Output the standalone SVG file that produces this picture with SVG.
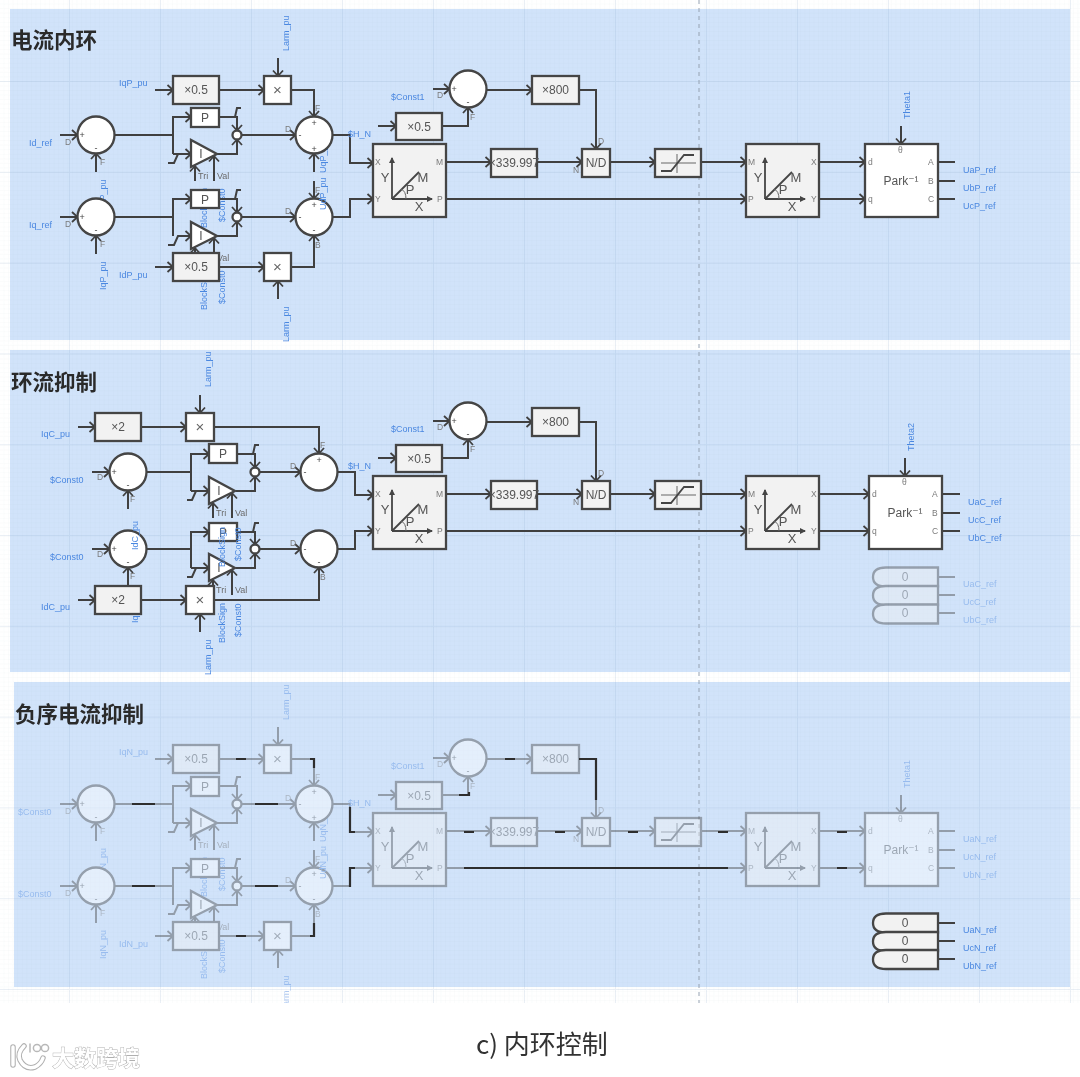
<svg xmlns="http://www.w3.org/2000/svg" width="1080" height="1077" viewBox="0 0 1080 1077">
<style>
text{font-family:"Liberation Sans","DejaVu Sans","Noto Sans CJK SC",sans-serif}
.title{font-family:"Noto Sans CJK SC","Noto Sans",sans-serif;font-weight:700;font-size:21.5px;fill:#2a2a2a}
.lb{font-size:9px;fill:#4a87e0}
.pt{font-size:8.5px;fill:#7a7a7a}
.tv{font-size:9px;fill:#6a6a6a}
.tx{font-size:12px;fill:#555;text-anchor:middle}
.gl{font-size:13px;fill:#555;text-anchor:middle}
.sg{font-size:9px;fill:#444;text-anchor:middle}
.b{fill:#f2f2f2;stroke:#444;stroke-width:2.3}
.w{fill:#fff;stroke:#444;stroke-width:2.3}
.c{fill:#fff;stroke:#444;stroke-width:2.3}
.ln{fill:none;stroke:#3f3f3f;stroke-width:2}
.ar{marker-end:url(#a)}
.dk{fill:none;stroke:#2f2f2f;stroke-width:2.2}
.thin{fill:none;stroke:#666;stroke-width:1}
.axis{fill:none;stroke:#444;stroke-width:1.8}
</style>
<defs>
<marker id="a" markerUnits="userSpaceOnUse" markerWidth="10" markerHeight="12" refX="8" refY="6" orient="auto"><path d="M2.5 1L8 6L2.5 11" fill="none" stroke="#3f3f3f" stroke-width="1.8"/></marker>
<marker id="t" markerUnits="userSpaceOnUse" markerWidth="8" markerHeight="8" refX="5" refY="4" orient="auto"><path d="M0 1L6 4L0 7Z" fill="#444"/></marker>
<pattern id="minor" width="4.55" height="4.55" patternUnits="userSpaceOnUse" x="0" y="0"><path d="M4.55 0V4.55H0" fill="none" stroke="#7f93ad" stroke-opacity=".08" stroke-width=".7"/></pattern>
<pattern id="major" width="91" height="90.8" patternUnits="userSpaceOnUse" x="69" y="81"><path d="M.5 0V90.8M0 .5H91" fill="none" stroke="#7f9dc4" stroke-opacity=".16" stroke-width="1"/></pattern>
<g id="axes"><path class="axis" d="M19 55V14" marker-end="url(#t)"/><path class="axis" d="M19 55H59" marker-end="url(#t)"/><path class="axis" d="M19 55L46 28"/><path class="thin" d="M33 55Q33 47 28 45"/></g>
<g id="limiter"><path class="thin" d="M6 14H41M22 5V24"/><path class="axis" d="M6 22H16L29 6H39"/></g>
<path id="zero" d="M0 0H-52Q-65 0-65 9.5Q-65 19-52 19H0Z"/>
<filter id="soft" x="0" y="0" width="100%" height="100%"><feGaussianBlur stdDeviation="0.5"/></filter>
</defs>
<rect width="1080" height="1077" fill="#fff"/>
<g filter="url(#soft)">
<g id="panels">
<rect x="10" y="9" width="1060" height="331" fill="#d1e3fa"/>
<rect x="10" y="350" width="1060" height="322" fill="#d1e3fa"/>
<rect x="14" y="682" width="1056" height="305" fill="#d1e3fa"/>
<rect width="1080" height="1003" fill="url(#minor)"/>
<rect width="1080" height="1003" fill="url(#major)"/>
<path d="M699 0V1003" fill="none" stroke="#95a2b2" stroke-width="1" stroke-dasharray="4 4"/>
</g>

<text class="title" x="11" y="48">电流内环</text>
<text class="title" x="11" y="390">环流抑制</text>
<text class="title" x="15" y="722">负序电流抑制</text>

<g id="section-1">
<g class="lb">
<text transform="translate(106,208) rotate(-90)">IdP_pu</text>
<text transform="translate(207,228) rotate(-90)">BlockSign</text>
<text transform="translate(225,222) rotate(-90)">$Const0</text>
<text transform="translate(207,310) rotate(-90)">BlockSign</text>
<text transform="translate(225,304) rotate(-90)">$Const0</text>
<text transform="translate(326,173) rotate(-90)">UqP_pu</text>
</g>
<text class="tv" x="217" y="261">Val</text>
<g id="connectors-1">
<path class="ln ar" d="M60 135H77.5"/><path class="ln ar" d="M96 172V153.5"/><path class="ln" d="M114 135H173"/>
<path class="ln ar" d="M173 154V117H191"/><path class="ln ar" d="M168 163H174L178 154H191"/><path class="ln" d="M173 154H178"/>
<path class="ln ar" d="M217 154H237V139.5"/><path class="ln ar" d="M219 117H237V130.5"/><path class="ln" d="M232 117H235L237 108H241"/><path class="ln ar" d="M241.5 135H295.5"/>
<path class="ln ar" d="M195 181V166"/><path class="ln ar" d="M214 181V156"/>
<path class="ln ar" d="M60 217H77.5"/><path class="ln ar" d="M96 254V235.5"/><path class="ln" d="M114 217H173"/>
<path class="ln ar" d="M173 236V199H191"/><path class="ln ar" d="M168 245H174L178 236H191"/>
<path class="ln ar" d="M217 236H237V221.5"/><path class="ln ar" d="M219 199H237V212.5"/><path class="ln" d="M232 199H235L237 190H241"/><path class="ln ar" d="M241.5 217H295.5"/>
<path class="ln ar" d="M195 258V248"/><path class="ln ar" d="M214 258V238"/>
<path class="ln ar" d="M155 90H173"/><path class="ln ar" d="M219 90H264"/><path class="ln ar" d="M278 58V76"/><path class="ln ar" d="M291 90H314V116.5"/>
<path class="ln ar" d="M314 172V153.5"/><path class="ln ar" d="M314 181V198.5"/>
<path class="ln ar" d="M155 267H173"/><path class="ln ar" d="M219 267H264"/><path class="ln ar" d="M278 299V281"/><path class="ln ar" d="M291 267H314V235.5"/>
<path class="ln ar" d="M332.5 135H350V163H373"/><path class="ln ar" d="M332.5 217H350V199H373"/>
<path class="ln ar" d="M378 126H396"/><path class="ln ar" d="M442 126H468V107.5"/><path class="ln ar" d="M433 89H449.5"/><path class="ln ar" d="M486.5 90H532"/>
<path class="ln ar" d="M579 90H596V149"/><path class="ln ar" d="M446 162H491"/><path class="ln ar" d="M537 162H582"/><path class="ln ar" d="M610 162H655"/><path class="ln ar" d="M701 162H746"/>
<path class="ln ar" d="M446 199H746"/><path class="ln ar" d="M819 162H865"/><path class="ln ar" d="M819 199H865"/><path class="ln ar" d="M901 126V144"/>
<path class="ln" d="M938 162H955M938 181H955M938 199H955"/>
</g>
<g id="s1-sum-d" transform="translate(96,135)"><circle class="c" r="18.5"/><text class="sg" x="-14" y="3">+</text><text class="sg" y="16">-</text><text class="pt" x="-31" y="10">D</text><text class="pt" x="4" y="30">F</text></g>
<g id="s1-sum-q" transform="translate(96,217)"><circle class="c" r="18.5"/><text class="sg" x="-14" y="3">+</text><text class="sg" y="16">-</text><text class="pt" x="-31" y="10">D</text><text class="pt" x="4" y="30">F</text></g>
<g id="s1-gain-q" transform="translate(173,76)"><rect class="b" width="46" height="28"/><text class="tx" x="23" y="18">×0.5</text></g>
<g id="s1-gain-d" transform="translate(173,253)"><rect class="b" width="46" height="28"/><text class="tx" x="23" y="18">×0.5</text></g>
<g id="s1-mul-q" transform="translate(264,76)"><rect class="w" width="27" height="28"/><text class="tx" x="13.5" y="19" style="font-size:15px;fill:#666">×</text></g>
<g id="s1-mul-d" transform="translate(264,253)"><rect class="w" width="27" height="28"/><text class="tx" x="13.5" y="19" style="font-size:15px;fill:#666">×</text></g>
<g id="s1-p1" transform="translate(191,108)"><rect class="w" width="28" height="19"/><text class="tx" x="14" y="14">P</text></g>
<g id="s1-p2" transform="translate(191,190)"><rect class="w" width="28" height="18"/><text class="tx" x="14" y="14">P</text></g>
<g id="s1-i1" transform="translate(191,140)"><path class="w" d="M0 0V27L26 14Z"/><text class="tx" x="10" y="18">I</text></g>
<g id="s1-i2" transform="translate(191,222)"><path class="w" d="M0 0V27L26 14Z"/><text class="tx" x="10" y="18">I</text></g>
<g id="s1-sw1"><circle class="c" cx="237" cy="135" r="4.5"/></g>
<g id="s1-sw2"><circle class="c" cx="237" cy="217" r="4.5"/></g>
<g id="s1-sum-a" transform="translate(314,135)"><circle class="c" r="18.5"/><text class="sg" y="-9">+</text><text class="sg" x="-14" y="3">-</text><text class="sg" y="17">+</text><text class="pt" x="-29" y="-3">D</text><text class="pt" x="1" y="-24">F</text></g>
<g id="s1-sum-b" transform="translate(314,217)"><circle class="c" r="18.5"/><text class="sg" y="-9">+</text><text class="sg" x="-14" y="3">-</text><text class="sg" y="16">-</text><text class="pt" x="-29" y="-3">D</text><text class="pt" x="1" y="-24">F</text><text class="pt" x="1" y="31">B</text></g>
<g id="s1-xy" transform="translate(373,144)"><rect class="b" width="73" height="73"/><use href="#axes"/><text class="pt" x="2" y="21">X</text><text class="pt" x="2" y="58">Y</text><text class="pt" x="63" y="21">M</text><text class="pt" x="64" y="58">P</text><text class="gl" x="12" y="38">Y</text><text class="gl" x="50" y="38">M</text><text class="gl" x="37" y="50">P</text><text class="gl" x="46" y="67">X</text></g>
<g id="s1-half" transform="translate(396,113)"><rect class="b" width="46" height="27"/><text class="tx" x="23" y="18">×0.5</text></g>
<g id="s1-sum-n" transform="translate(468,89)"><circle class="c" r="18.5"/><text class="sg" x="-14" y="3">+</text><text class="sg" y="16">-</text><text class="pt" x="-31" y="9">D</text><text class="pt" x="2" y="31">F</text></g>
<g id="s1-k800" transform="translate(532,76)"><rect class="b" width="47" height="28"/><text class="tx" x="23.5" y="18">×800</text></g>
<g id="s1-k339" transform="translate(491,149)"><rect class="b" width="46" height="28"/><text class="tx" x="23" y="18">×339.997</text></g>
<g id="s1-nd" transform="translate(582,149)"><rect class="b" width="28" height="28"/><text class="tx" x="14" y="18">N/D</text><text class="pt" x="-9" y="24">N</text><text class="pt" x="16" y="-5">D</text></g>
<g id="s1-lim" transform="translate(655,149)"><rect class="b" width="46" height="28"/><use href="#limiter"/></g>
<g id="s1-pol" transform="translate(746,144)"><rect class="b" width="73" height="73"/><use href="#axes"/><text class="pt" x="2" y="21">M</text><text class="pt" x="2" y="58">P</text><text class="pt" x="65" y="21">X</text><text class="pt" x="65" y="58">Y</text><text class="gl" x="12" y="38">Y</text><text class="gl" x="50" y="38">M</text><text class="gl" x="37" y="50">P</text><text class="gl" x="46" y="67">X</text></g>
<g id="s1-park" transform="translate(865,144)"><rect class="w" width="73" height="73"/><text class="tx" x="36" y="41">Park⁻¹</text><text class="pt" x="3" y="21">d</text><text class="pt" x="3" y="58">q</text><text class="pt" x="33" y="9">θ</text><text class="pt" x="63" y="21">A</text><text class="pt" x="63" y="40">B</text><text class="pt" x="63" y="58">C</text></g>
<g class="lb">
<text x="29" y="146">Id_ref</text><text x="29" y="228">Iq_ref</text>
<text x="119" y="86">IqP_pu</text><text x="119" y="278">IdP_pu</text>
<text x="348" y="137">$H_N</text><text x="391" y="100">$Const1</text>
<text transform="translate(106,290) rotate(-90)">IqP_pu</text>
<text transform="translate(289,51) rotate(-90)">Larm_pu</text>
<text transform="translate(289,342) rotate(-90)">Larm_pu</text>
<text transform="translate(326,210) rotate(-90)">UdP_pu</text>
<text transform="translate(910,119) rotate(-90)">Theta1</text>
<text x="963" y="173">UaP_ref</text><text x="963" y="191">UbP_ref</text><text x="963" y="209">UcP_ref</text>
</g>
<text class="tv" x="198" y="179">Tri</text><text class="tv" x="217" y="179">Val</text>
</g>

<g id="section-2">
<text class="lb" transform="translate(138,623) rotate(-90)">IqC_pu</text>
<g id="connectors-2">
<path class="ln ar" d="M78 427H95"/><path class="ln ar" d="M141 427H186"/><path class="ln ar" d="M200 395V413"/><path class="ln ar" d="M214 427H319V453.5"/>
<path class="ln ar" d="M92 472H109.5"/><path class="ln ar" d="M128 509V490.5"/><path class="ln" d="M146.5 472H191"/>
<path class="ln ar" d="M191 491V454H209"/><path class="ln ar" d="M187 500H192L196 491H209"/><path class="ln" d="M191 491H196"/>
<path class="ln ar" d="M236 491H255V476.5"/><path class="ln ar" d="M237 454H255V467.5"/><path class="ln" d="M250 454H253L255 445H259"/><path class="ln ar" d="M259.5 472H300.5"/>
<path class="ln ar" d="M213 518V503"/><path class="ln ar" d="M232 518V493"/>
<path class="ln ar" d="M92 549H109.5"/><path class="ln ar" d="M128 586V567.5"/><path class="ln" d="M146.5 549H191"/>
<path class="ln ar" d="M191 568V532H209"/><path class="ln ar" d="M187 577H192L196 568H209"/><path class="ln" d="M191 568H196"/>
<path class="ln ar" d="M236 568H255V553.5"/><path class="ln ar" d="M237 532H255V544.5"/><path class="ln" d="M250 532H253L255 523H259"/><path class="ln ar" d="M259.5 549H300.5"/>
<path class="ln ar" d="M213 595V580"/><path class="ln ar" d="M232 595V570"/>
<path class="ln ar" d="M78 600H95"/><path class="ln ar" d="M141 600H186"/><path class="ln ar" d="M200 632V614"/><path class="ln ar" d="M214 600H319V567.5"/>
<path class="ln ar" d="M337.5 472H355V495H373"/><path class="ln ar" d="M337.5 549H355V531H373"/>
<path class="ln ar" d="M378 458H396"/><path class="ln ar" d="M442 458H468V439.5"/><path class="ln ar" d="M433 421H449.5"/><path class="ln ar" d="M486.5 422H532"/>
<path class="ln ar" d="M579 422H596V481"/><path class="ln ar" d="M446 494H491"/><path class="ln ar" d="M537 494H582"/><path class="ln ar" d="M610 494H655"/><path class="ln ar" d="M701 494H746"/>
<path class="ln ar" d="M446 531H746"/><path class="ln ar" d="M819 494H869"/><path class="ln ar" d="M819 531H869"/><path class="ln ar" d="M905 458V476"/>
<path class="ln" d="M942 494H960M942 513H960M942 531H960"/>
</g>
<g id="s2-gain-q" transform="translate(95,413)"><rect class="b" width="46" height="28"/><text class="tx" x="23" y="18">×2</text></g>
<g id="s2-gain-d" transform="translate(95,586)"><rect class="b" width="46" height="28"/><text class="tx" x="23" y="18">×2</text></g>
<g id="s2-mul-q" transform="translate(186,413)"><rect class="w" width="28" height="28"/><text class="tx" x="14" y="19" style="font-size:15px;fill:#666">×</text></g>
<g id="s2-mul-d" transform="translate(186,586)"><rect class="w" width="28" height="28"/><text class="tx" x="14" y="19" style="font-size:15px;fill:#666">×</text></g>
<g id="s2-sum-d" transform="translate(128,472)"><circle class="c" r="18.5"/><text class="sg" x="-14" y="3">+</text><text class="sg" y="16">-</text><text class="pt" x="-31" y="8">D</text><text class="pt" x="2" y="30">F</text></g>
<g id="s2-sum-q" transform="translate(128,549)"><circle class="c" r="18.5"/><text class="sg" x="-14" y="3">+</text><text class="sg" y="16">-</text><text class="pt" x="-31" y="8">D</text><text class="pt" x="2" y="30">F</text></g>
<g id="s2-p1" transform="translate(209,444)"><rect class="w" width="28" height="19"/><text class="tx" x="14" y="14">P</text></g>
<g id="s2-p2" transform="translate(209,523)"><rect class="w" width="28" height="18"/><text class="tx" x="14" y="14">P</text></g>
<g id="s2-i1" transform="translate(209,477)"><path class="w" d="M0 0V27L26 14Z"/><text class="tx" x="10" y="18">I</text></g>
<g id="s2-i2" transform="translate(209,554)"><path class="w" d="M0 0V27L26 14Z"/><text class="tx" x="10" y="18">I</text></g>
<g id="s2-sw1"><circle class="c" cx="255" cy="472" r="4.5"/></g>
<g id="s2-sw2"><circle class="c" cx="255" cy="549" r="4.5"/></g>
<g id="s2-sum-a" transform="translate(319,472)"><circle class="c" r="18.5"/><text class="sg" y="-9">+</text><text class="sg" x="-14" y="3">-</text><text class="pt" x="-29" y="-3">D</text><text class="pt" x="1" y="-24">F</text></g>
<g id="s2-sum-b" transform="translate(319,549)"><circle class="c" r="18.5"/><text class="sg" x="-14" y="3">-</text><text class="sg" y="16">-</text><text class="pt" x="-29" y="-3">D</text><text class="pt" x="1" y="31">B</text></g>
<g id="s2-xy" transform="translate(373,476)"><rect class="b" width="73" height="73"/><use href="#axes"/><text class="pt" x="2" y="21">X</text><text class="pt" x="2" y="58">Y</text><text class="pt" x="63" y="21">M</text><text class="pt" x="64" y="58">P</text><text class="gl" x="12" y="38">Y</text><text class="gl" x="50" y="38">M</text><text class="gl" x="37" y="50">P</text><text class="gl" x="46" y="67">X</text></g>
<g id="s2-half" transform="translate(396,445)"><rect class="b" width="46" height="27"/><text class="tx" x="23" y="18">×0.5</text></g>
<g id="s2-sum-n" transform="translate(468,421)"><circle class="c" r="18.5"/><text class="sg" x="-14" y="3">+</text><text class="sg" y="16">-</text><text class="pt" x="-31" y="9">D</text><text class="pt" x="2" y="31">F</text></g>
<g id="s2-k800" transform="translate(532,408)"><rect class="b" width="47" height="28"/><text class="tx" x="23.5" y="18">×800</text></g>
<g id="s2-k339" transform="translate(491,481)"><rect class="b" width="46" height="28"/><text class="tx" x="23" y="18">×339.997</text></g>
<g id="s2-nd" transform="translate(582,481)"><rect class="b" width="28" height="28"/><text class="tx" x="14" y="18">N/D</text><text class="pt" x="-9" y="24">N</text><text class="pt" x="16" y="-5">D</text></g>
<g id="s2-lim" transform="translate(655,481)"><rect class="b" width="46" height="28"/><use href="#limiter"/></g>
<g id="s2-pol" transform="translate(746,476)"><rect class="b" width="73" height="73"/><use href="#axes"/><text class="pt" x="2" y="21">M</text><text class="pt" x="2" y="58">P</text><text class="pt" x="65" y="21">X</text><text class="pt" x="65" y="58">Y</text><text class="gl" x="12" y="38">Y</text><text class="gl" x="50" y="38">M</text><text class="gl" x="37" y="50">P</text><text class="gl" x="46" y="67">X</text></g>
<g id="s2-park" transform="translate(869,476)"><rect class="w" width="73" height="73"/><text class="tx" x="36" y="41">Park⁻¹</text><text class="pt" x="3" y="21">d</text><text class="pt" x="3" y="58">q</text><text class="pt" x="33" y="9">θ</text><text class="pt" x="63" y="21">A</text><text class="pt" x="63" y="40">B</text><text class="pt" x="63" y="58">C</text></g>
<g id="s2-zero" opacity=".42">
<path class="ln" d="M938 577H955M938 595H955M938 613H955"/>
<use href="#zero" class="b" x="938" y="567.5"/><use href="#zero" class="b" x="938" y="586"/><use href="#zero" class="b" x="938" y="604.5"/>
<text class="tx" x="905" y="581">0</text><text class="tx" x="905" y="599">0</text><text class="tx" x="905" y="617">0</text>
<g class="lb"><text x="963" y="587">UaC_ref</text><text x="963" y="605">UcC_ref</text><text x="963" y="623">UbC_ref</text></g>
</g>
<g class="lb">
<text x="41" y="437">IqC_pu</text><text x="41" y="610">IdC_pu</text>
<text x="50" y="483">$Const0</text><text x="50" y="560">$Const0</text>
<text x="348" y="469">$H_N</text><text x="391" y="432">$Const1</text>
<text transform="translate(138,550) rotate(-90)">IdC_pu</text>
<text transform="translate(211,387) rotate(-90)">Larm_pu</text>
<text transform="translate(211,675) rotate(-90)">Larm_pu</text>
<text transform="translate(225,567) rotate(-90)">BlockSign</text>
<text transform="translate(241,561) rotate(-90)">$Const0</text>
<text transform="translate(225,643) rotate(-90)">BlockSign</text>
<text transform="translate(241,637) rotate(-90)">$Const0</text>
<text transform="translate(914,451) rotate(-90)">Theta2</text>
<text x="968" y="505">UaC_ref</text><text x="968" y="523">UcC_ref</text><text x="968" y="541">UbC_ref</text>
</g>
<text class="tv" x="216" y="516">Tri</text><text class="tv" x="235" y="516">Val</text>
<text class="tv" x="216" y="593">Tri</text><text class="tv" x="235" y="593">Val</text>
</g>

<g id="section-3">
<g opacity=".42">
<g class="lb">
<text transform="translate(106,877) rotate(-90)">IdN_pu</text>
<text transform="translate(207,897) rotate(-90)">BlockSign</text>
<text transform="translate(225,891) rotate(-90)">$Const0</text>
<text transform="translate(207,979) rotate(-90)">BlockSign</text>
<text transform="translate(225,973) rotate(-90)">$Const0</text>
<text transform="translate(326,842) rotate(-90)">UqN_pu</text>
</g>
<text class="tv" x="217" y="930">Val</text>
<g id="connectors-3" transform="translate(0,669)">
<path class="ln ar" d="M60 135H77.5"/><path class="ln ar" d="M96 172V153.5"/><path class="ln" d="M114 135H173"/>
<path class="ln ar" d="M173 154V117H191"/><path class="ln ar" d="M168 163H174L178 154H191"/><path class="ln" d="M173 154H178"/>
<path class="ln ar" d="M217 154H237V139.5"/><path class="ln ar" d="M219 117H237V130.5"/><path class="ln" d="M232 117H235L237 108H241"/><path class="ln ar" d="M241.5 135H295.5"/>
<path class="ln ar" d="M195 181V166"/><path class="ln ar" d="M214 181V156"/>
<path class="ln ar" d="M60 217H77.5"/><path class="ln ar" d="M96 254V235.5"/><path class="ln" d="M114 217H173"/>
<path class="ln ar" d="M173 236V199H191"/><path class="ln ar" d="M168 245H174L178 236H191"/>
<path class="ln ar" d="M217 236H237V221.5"/><path class="ln ar" d="M219 199H237V212.5"/><path class="ln" d="M232 199H235L237 190H241"/><path class="ln ar" d="M241.5 217H295.5"/>
<path class="ln ar" d="M195 258V248"/><path class="ln ar" d="M214 258V238"/>
<path class="ln ar" d="M155 90H173"/><path class="ln ar" d="M219 90H264"/><path class="ln ar" d="M278 58V76"/><path class="ln ar" d="M291 90H314V116.5"/>
<path class="ln ar" d="M314 172V153.5"/><path class="ln ar" d="M314 181V198.5"/>
<path class="ln ar" d="M155 267H173"/><path class="ln ar" d="M219 267H264"/><path class="ln ar" d="M278 299V281"/><path class="ln ar" d="M291 267H314V235.5"/>
<path class="ln ar" d="M332.5 135H350V163H373"/><path class="ln ar" d="M332.5 217H350V199H373"/>
<path class="ln ar" d="M378 126H396"/><path class="ln ar" d="M442 126H468V107.5"/><path class="ln ar" d="M433 89H449.5"/><path class="ln ar" d="M486.5 90H532"/>
<path class="ln ar" d="M579 90H596V149"/><path class="ln ar" d="M446 162H491"/><path class="ln ar" d="M537 162H582"/><path class="ln ar" d="M610 162H655"/><path class="ln ar" d="M701 162H746"/>
<path class="ln ar" d="M446 199H746"/><path class="ln ar" d="M819 162H865"/><path class="ln ar" d="M819 199H865"/><path class="ln ar" d="M901 126V144"/>
<path class="ln" d="M938 162H955M938 181H955M938 199H955"/>
</g>
<g id="s3-sum-d" transform="translate(96,804)"><circle class="c" r="18.5"/><text class="sg" x="-14" y="3">+</text><text class="sg" y="16">-</text><text class="pt" x="-31" y="10">D</text><text class="pt" x="4" y="30">F</text></g>
<g id="s3-sum-q" transform="translate(96,886)"><circle class="c" r="18.5"/><text class="sg" x="-14" y="3">+</text><text class="sg" y="16">-</text><text class="pt" x="-31" y="10">D</text><text class="pt" x="4" y="30">F</text></g>
<g id="s3-gain-q" transform="translate(173,745)"><rect class="b" width="46" height="28"/><text class="tx" x="23" y="18">×0.5</text></g>
<g id="s3-gain-d" transform="translate(173,922)"><rect class="b" width="46" height="28"/><text class="tx" x="23" y="18">×0.5</text></g>
<g id="s3-mul-q" transform="translate(264,745)"><rect class="w" width="27" height="28"/><text class="tx" x="13.5" y="19" style="font-size:15px;fill:#666">×</text></g>
<g id="s3-mul-d" transform="translate(264,922)"><rect class="w" width="27" height="28"/><text class="tx" x="13.5" y="19" style="font-size:15px;fill:#666">×</text></g>
<g id="s3-p1" transform="translate(191,777)"><rect class="w" width="28" height="19"/><text class="tx" x="14" y="14">P</text></g>
<g id="s3-p2" transform="translate(191,859)"><rect class="w" width="28" height="18"/><text class="tx" x="14" y="14">P</text></g>
<g id="s3-i1" transform="translate(191,809)"><path class="w" d="M0 0V27L26 14Z"/><text class="tx" x="10" y="18">I</text></g>
<g id="s3-i2" transform="translate(191,891)"><path class="w" d="M0 0V27L26 14Z"/><text class="tx" x="10" y="18">I</text></g>
<g id="s3-sw1"><circle class="c" cx="237" cy="804" r="4.5"/></g>
<g id="s3-sw2"><circle class="c" cx="237" cy="886" r="4.5"/></g>
<g id="s3-sum-a" transform="translate(314,804)"><circle class="c" r="18.5"/><text class="sg" y="-9">+</text><text class="sg" x="-14" y="3">-</text><text class="sg" y="17">+</text><text class="pt" x="-29" y="-3">D</text><text class="pt" x="1" y="-24">F</text></g>
<g id="s3-sum-b" transform="translate(314,886)"><circle class="c" r="18.5"/><text class="sg" y="-9">+</text><text class="sg" x="-14" y="3">-</text><text class="sg" y="16">-</text><text class="pt" x="-29" y="-3">D</text><text class="pt" x="1" y="-24">F</text><text class="pt" x="1" y="31">B</text></g>
<g id="s3-xy" transform="translate(373,813)"><rect class="b" width="73" height="73"/><use href="#axes"/><text class="pt" x="2" y="21">X</text><text class="pt" x="2" y="58">Y</text><text class="pt" x="63" y="21">M</text><text class="pt" x="64" y="58">P</text><text class="gl" x="12" y="38">Y</text><text class="gl" x="50" y="38">M</text><text class="gl" x="37" y="50">P</text><text class="gl" x="46" y="67">X</text></g>
<g id="s3-half" transform="translate(396,782)"><rect class="b" width="46" height="27"/><text class="tx" x="23" y="18">×0.5</text></g>
<g id="s3-sum-n" transform="translate(468,758)"><circle class="c" r="18.5"/><text class="sg" x="-14" y="3">+</text><text class="sg" y="16">-</text><text class="pt" x="-31" y="9">D</text><text class="pt" x="2" y="31">F</text></g>
<g id="s3-k800" transform="translate(532,745)"><rect class="b" width="47" height="28"/><text class="tx" x="23.5" y="18">×800</text></g>
<g id="s3-k339" transform="translate(491,818)"><rect class="b" width="46" height="28"/><text class="tx" x="23" y="18">×339.997</text></g>
<g id="s3-nd" transform="translate(582,818)"><rect class="b" width="28" height="28"/><text class="tx" x="14" y="18">N/D</text><text class="pt" x="-9" y="24">N</text><text class="pt" x="16" y="-5">D</text></g>
<g id="s3-lim" transform="translate(655,818)"><rect class="b" width="46" height="28"/><use href="#limiter"/></g>
<g id="s3-pol" transform="translate(746,813)"><rect class="b" width="73" height="73"/><use href="#axes"/><text class="pt" x="2" y="21">M</text><text class="pt" x="2" y="58">P</text><text class="pt" x="65" y="21">X</text><text class="pt" x="65" y="58">Y</text><text class="gl" x="12" y="38">Y</text><text class="gl" x="50" y="38">M</text><text class="gl" x="37" y="50">P</text><text class="gl" x="46" y="67">X</text></g>
<g id="s3-park" transform="translate(865,813)"><rect class="w" width="73" height="73"/><text class="tx" x="36" y="41">Park⁻¹</text><text class="pt" x="3" y="21">d</text><text class="pt" x="3" y="58">q</text><text class="pt" x="33" y="9">θ</text><text class="pt" x="63" y="21">A</text><text class="pt" x="63" y="40">B</text><text class="pt" x="63" y="58">C</text></g>
<g class="lb">
<text x="18" y="815">$Const0</text><text x="18" y="897">$Const0</text>
<text x="119" y="755">IqN_pu</text><text x="119" y="947">IdN_pu</text>
<text x="348" y="806">$H_N</text><text x="391" y="769">$Const1</text>
<text transform="translate(106,959) rotate(-90)">IqN_pu</text>
<text transform="translate(289,720) rotate(-90)">Larm_pu</text>
<text transform="translate(289,1011) rotate(-90)">Larm_pu</text>
<text transform="translate(326,879) rotate(-90)">UdN_pu</text>
<text transform="translate(910,788) rotate(-90)">Theta1</text>
<text x="963" y="842">UaN_ref</text><text x="963" y="860">UcN_ref</text><text x="963" y="878">UbN_ref</text>
</g>
<text class="tv" x="198" y="848">Tri</text><text class="tv" x="217" y="848">Val</text>
</g>
<path id="s3-remnants" class="dk" d="M132 804H155M132 886H155M255 804H278M255 886H278M236 759H246M236 936H246M310 759H314V768M314 923V936H310M350 807V832H355M355 868H350V887M505 759H515M459 795H469V792M579 759H596V800M464 832H474M555 832H565M628 832H638M718 832H728M464 868H728M837 832H847M837 868H847"/>
<g id="s3-zero">
<path class="ln" d="M938 923H955M938 941H955M938 959H955"/>
<use href="#zero" class="b" x="938" y="913.5"/><use href="#zero" class="b" x="938" y="932"/><use href="#zero" class="b" x="938" y="950"/>
<text class="tx" x="905" y="927">0</text><text class="tx" x="905" y="945">0</text><text class="tx" x="905" y="963">0</text>
<g class="lb"><text x="963" y="933">UaN_ref</text><text x="963" y="951">UcN_ref</text><text x="963" y="969">UbN_ref</text></g>
</g>
</g>
<rect y="1003" width="1080" height="74" fill="#fff"/>
<text x="476" y="1054" style="font-family:'Noto Sans CJK SC','Noto Sans',sans-serif;font-size:26px;fill:#333">c) 内环控制</text>
<g id="watermark" fill="none" stroke-linecap="round">
<g stroke="#b0b0b0" stroke-width="5.5"><path d="M13 1047V1065M24 1046Q17 1053 20 1060Q25 1070 35 1067Q41 1064 43 1058"/></g>
<g stroke="#fff" stroke-width="3.4"><path d="M13 1047V1065M24 1046Q17 1053 20 1060Q25 1070 35 1067Q41 1064 43 1058"/></g>
<g stroke="#b8b8b8" stroke-width="1.5"><path d="M30 1044V1052"/><circle cx="37" cy="1048" r="3.6"/><circle cx="45" cy="1048" r="3.6"/></g>
</g>
<text x="52" y="1066" style="font-family:'Noto Sans CJK SC',sans-serif;font-size:22px;font-weight:700;fill:#fff;stroke:#b0b0b0;stroke-width:.9;paint-order:stroke">大数跨境</text>
</g>
</svg>
